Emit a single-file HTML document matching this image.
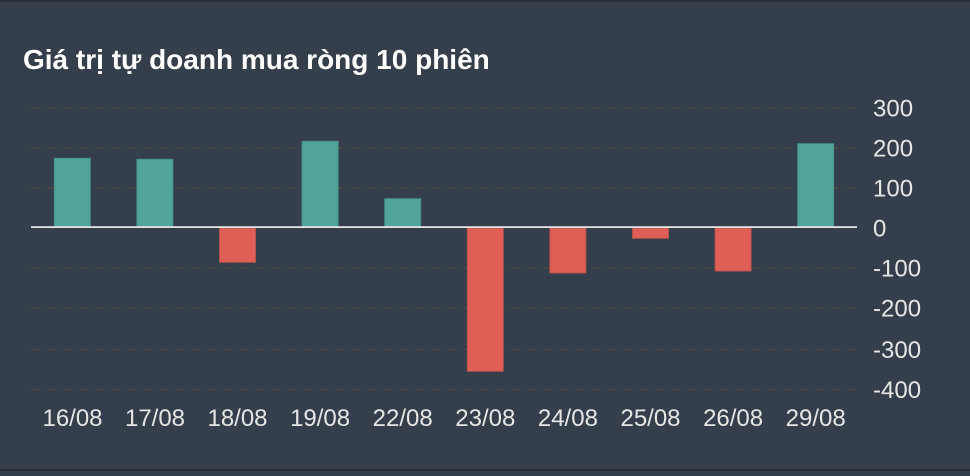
<!DOCTYPE html>
<html><head><meta charset="utf-8"><style>
html,body{margin:0;padding:0;background:#343f4b;}
svg{display:block;}
text{font-family:"Liberation Sans",Arial,sans-serif;}
</style></head><body>
<svg width="970" height="476" viewBox="0 0 970 476" xmlns="http://www.w3.org/2000/svg">
<rect x="0" y="0" width="970" height="476" fill="#343f4b"/>
<rect x="0" y="0" width="970" height="1.5" fill="#262d35"/>
<rect x="0" y="469" width="970" height="2" fill="#262d35"/>
<text x="23" y="69" font-size="28" font-weight="bold" fill="#ffffff">Giá trị tự doanh mua ròng 10 phiên</text>
<g stroke="#4d4846" stroke-width="1.6" stroke-dasharray="8 8">
<line x1="31" y1="108" x2="857" y2="108"/>
<line x1="31" y1="148" x2="857" y2="148"/>
<line x1="31" y1="188" x2="857" y2="188"/>
<line x1="31" y1="268" x2="857" y2="268"/>
<line x1="31" y1="308" x2="857" y2="308"/>
<line x1="31" y1="349.5" x2="857" y2="349.5"/>
<line x1="31" y1="389.5" x2="857" y2="389.5"/>
</g>
<g fill="#52a59a" stroke="#478f88" stroke-width="1">
<rect x="54.3" y="158.3" width="36" height="69.2"/>
<rect x="136.9" y="159.3" width="36" height="68.2"/>
<rect x="302.1" y="141.3" width="36" height="86.2"/>
<rect x="384.7" y="198.7" width="36" height="28.8"/>
<rect x="797.7" y="143.7" width="36" height="83.8"/>
</g>
<g fill="#df5f57" stroke="#b8504e" stroke-width="1">
<rect x="219.5" y="228" width="36" height="34.3"/>
<rect x="467.3" y="228" width="36" height="143.3"/>
<rect x="549.9" y="228" width="36" height="45"/>
<rect x="632.5" y="228" width="36" height="10.3"/>
<rect x="715.1" y="228" width="36" height="43"/>
</g>
<rect x="31" y="226.2" width="826" height="1.8" fill="#e2e2e2"/>
<g font-size="24" fill="#e6e6e6">
<text x="873" y="116.5">300</text>
<text x="873" y="156.5">200</text>
<text x="873" y="196.5">100</text>
<text x="873" y="236.5">0</text>
<text x="873" y="276.5">-100</text>
<text x="873" y="316.5">-200</text>
<text x="873" y="358">-300</text>
<text x="873" y="398">-400</text>
</g>
<g font-size="24" fill="#e6e6e6" text-anchor="middle">
<text x="72.5" y="426">16/08</text>
<text x="155" y="426">17/08</text>
<text x="237.5" y="426">18/08</text>
<text x="320.1" y="426">19/08</text>
<text x="402.7" y="426">22/08</text>
<text x="485.3" y="426">23/08</text>
<text x="567.9" y="426">24/08</text>
<text x="650.5" y="426">25/08</text>
<text x="733.1" y="426">26/08</text>
<text x="815.7" y="426">29/08</text>
</g>
</svg>
</body></html>
